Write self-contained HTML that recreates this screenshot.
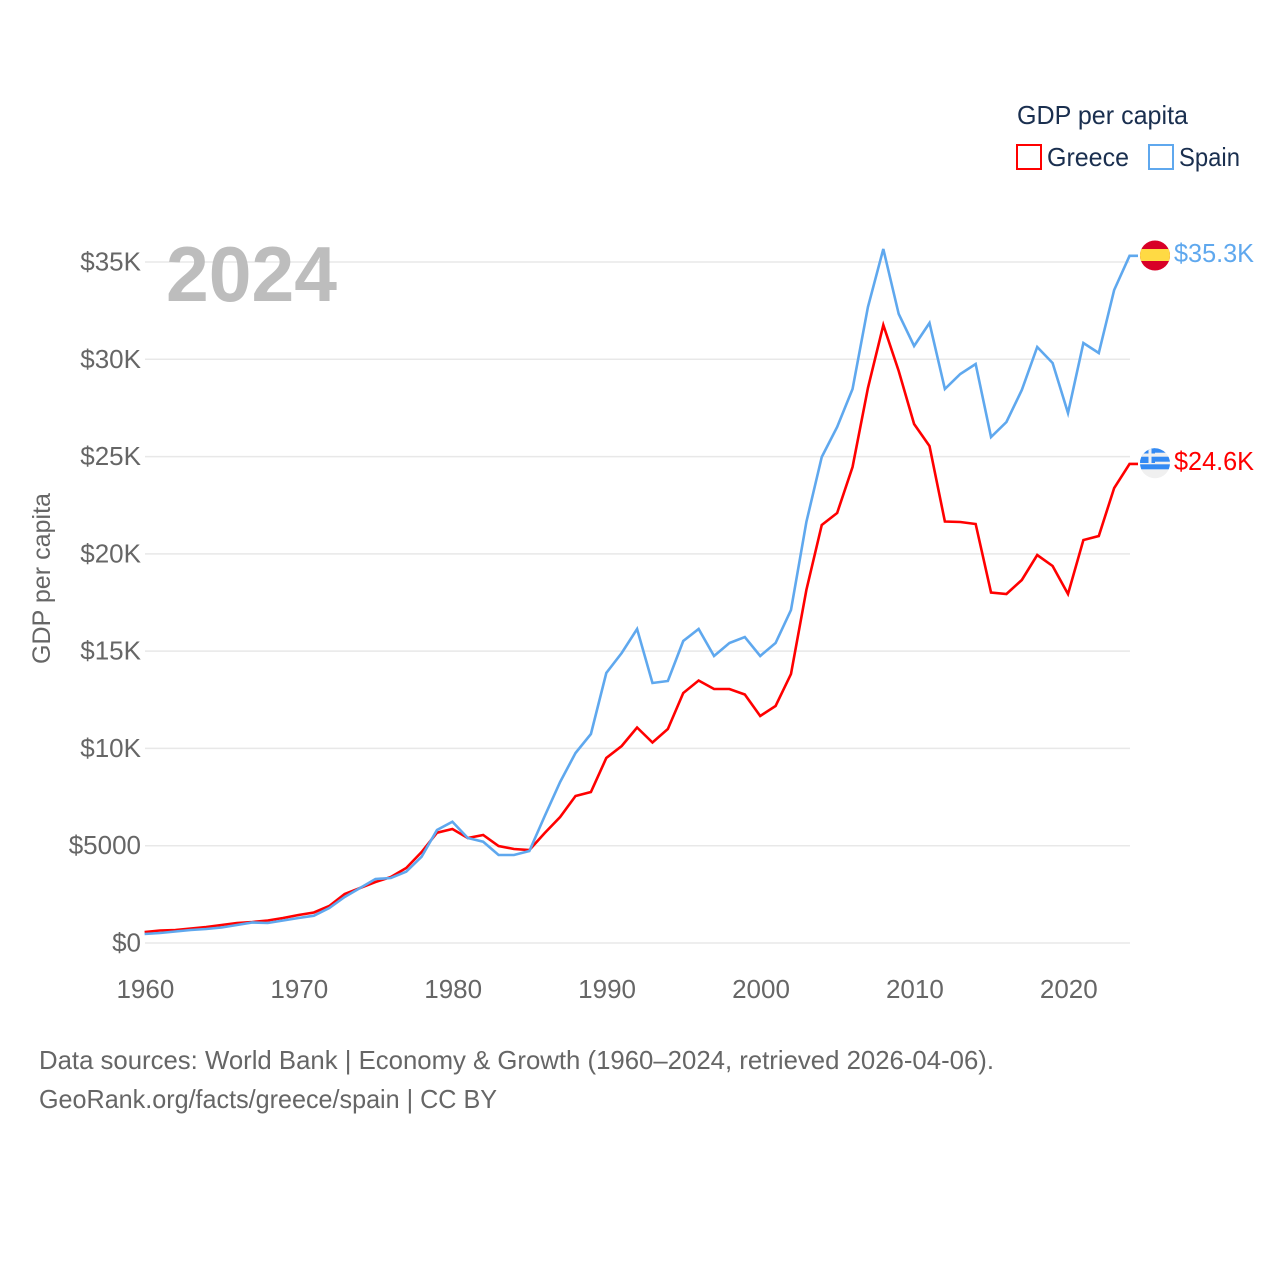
<!DOCTYPE html>
<html lang="en">
<head>
<meta charset="utf-8">
<title>GDP per capita: Greece and Spain</title>
<style>
html,body{margin:0;padding:0;background:#fff;width:1280px;height:1280px;overflow:hidden}
svg{display:block;font-family:"Liberation Sans",sans-serif}
</style>
</head>
<body>
<svg id="chart" width="1280" height="1280" viewBox="0 0 1280 1280" xmlns="http://www.w3.org/2000/svg">
  <defs>
    <clipPath id="flag-clip-es"><circle cx="1155" cy="255.5" r="15"/></clipPath>
    <clipPath id="flag-clip-gr"><circle cx="1155" cy="463.3" r="15"/></clipPath>
  </defs>
  <rect width="1280" height="1280" fill="#ffffff"/>

  <g id="grid"></g>
  <g id="y-ticks"></g>
  <g id="x-ticks"></g>

  <text x="166" y="301" font-size="78" font-weight="700" fill="#bdbdbd" textLength="171" lengthAdjust="spacingAndGlyphs">2024</text>

  <text transform="translate(50,664) rotate(-90)" font-size="25" fill="#666666" textLength="171" lengthAdjust="spacingAndGlyphs">GDP per capita</text>

  <g id="series"></g>

  <g>
    <text x="1017" y="124" font-size="26" fill="#1a2f4f" textLength="171" lengthAdjust="spacingAndGlyphs">GDP per capita</text>
    <rect x="1017" y="145" width="24" height="24" fill="none" stroke="#ff0000" stroke-width="2"/>
    <text x="1047" y="166" font-size="26" fill="#1a2f4f" textLength="82" lengthAdjust="spacingAndGlyphs">Greece</text>
    <rect x="1149" y="145" width="24" height="24" fill="none" stroke="#5fa8ee" stroke-width="2"/>
    <text x="1179" y="166" font-size="26" fill="#1a2f4f" textLength="61" lengthAdjust="spacingAndGlyphs">Spain</text>
  </g>

  <g clip-path="url(#flag-clip-es)">
    <rect x="1140" y="240" width="30" height="31" fill="#d80027"/>
    <rect x="1140" y="249" width="30" height="12" fill="#ffda44"/>
  </g>
  <g clip-path="url(#flag-clip-gr)">
    <rect x="1140" y="448" width="30" height="31" fill="#f0f0f0"/>
    <rect x="1140" y="448" width="30" height="4.7" fill="#338af3"/>
    <rect x="1140" y="456.7" width="30" height="5" fill="#338af3"/>
    <rect x="1140" y="464.3" width="30" height="5" fill="#338af3"/>
    <rect x="1140" y="448" width="15" height="15" fill="#338af3"/>
    <rect x="1140" y="453.5" width="15" height="3.2" fill="#f0f0f0"/>
    <rect x="1148.5" y="448" width="3" height="15" fill="#f0f0f0"/>
  </g>

  <text x="1174" y="262" font-size="26" fill="#5fa8ee" textLength="80" lengthAdjust="spacingAndGlyphs">$35.3K</text>
  <text x="1174" y="470" font-size="26" fill="#ff0000" textLength="80" lengthAdjust="spacingAndGlyphs">$24.6K</text>

  <text x="39" y="1069" font-size="26" fill="#666666" textLength="955" lengthAdjust="spacingAndGlyphs">Data sources: World Bank | Economy &amp; Growth (1960–2024, retrieved 2026-04-06).</text>
  <text x="39" y="1108" font-size="26" fill="#666666" textLength="458" lengthAdjust="spacingAndGlyphs">GeoRank.org/facts/greece/spain | CC BY</text>
</svg>
<script>
const startYear = 1960;
const yTickValues = [0, 5000, 10000, 15000, 20000, 25000, 30000, 35000];
const yTickLabels = ["$0", "$5000", "$10K", "$15K", "$20K", "$25K", "$30K", "$35K"];
const xTickYears = [1960, 1970, 1980, 1990, 2000, 2010, 2020];
const greeceValues = [565, 642, 668, 745, 822, 925, 1028, 1079, 1156, 1285, 1439, 1568, 1902, 2518, 2827, 3135, 3392, 3855, 4677, 5669, 5859, 5397, 5551, 4985, 4831, 4780, 5653, 6476, 7555, 7761, 9508, 10125, 11076, 10305, 10999, 12849, 13491, 13055, 13055, 12772, 11667, 12181, 13825, 18143, 21483, 22100, 24464, 28524, 31762, 29398, 26674, 25543, 21663, 21637, 21534, 18014, 17937, 18657, 19941, 19376, 17937, 20712, 20918, 23385, 24620];
const spainValues = [463, 514, 591, 668, 720, 797, 925, 1054, 1028, 1156, 1285, 1403, 1799, 2364, 2827, 3289, 3341, 3665, 4435, 5808, 6234, 5397, 5206, 4523, 4523, 4728, 6527, 8275, 9765, 10742, 13877, 14905, 16138, 13363, 13466, 15522, 16138, 14751, 15419, 15727, 14751, 15419, 17115, 21637, 24978, 26520, 28473, 32687, 35668, 32328, 30683, 31865, 28473, 29244, 29758, 26006, 26777, 28422, 30632, 29809, 27240, 30837, 30323, 33561, 35320];

const SVG_NS = "http://www.w3.org/2000/svg";
const xOf = function (year) { return 144.6 + (year - 1960) * 15.39; };
const yOf = function (value) { return 943 - value * 0.019457; };

const gridGroup = document.getElementById("grid");
const yTickGroup = document.getElementById("y-ticks");
const xTickGroup = document.getElementById("x-ticks");
const seriesGroup = document.getElementById("series");

yTickValues.forEach(function (value, i) {
  const line = document.createElementNS(SVG_NS, "line");
  
  
  line.setAttribute("x1", 145);
  line.setAttribute("x2", 1130);
  line.setAttribute("y1", yOf(value));
  line.setAttribute("y2", yOf(value));
  line.setAttribute("stroke", "#e8e8e8");
  line.setAttribute("stroke-width", "1.5");
  gridGroup.appendChild(line);

  const label = document.createElementNS(SVG_NS, "text");
  
  
  label.setAttribute("x", 141);
  label.setAttribute("y", yOf(value) + 8.5);
  label.setAttribute("text-anchor", "end");
  label.setAttribute("font-size", "26");
  label.setAttribute("fill", "#666666");
  label.textContent = yTickLabels[i];
  yTickGroup.appendChild(label);
});

xTickYears.forEach(function (year) {
  const label = document.createElementNS(SVG_NS, "text");
  
  
  label.setAttribute("x", xOf(year) + 0.8);
  label.setAttribute("y", 998);
  label.setAttribute("text-anchor", "middle");
  label.setAttribute("font-size", "26");
  label.setAttribute("fill", "#666666");
  label.textContent = String(year);
  xTickGroup.appendChild(label);
});

function pointsFor(values) {
  const pts = values.map(function (value, i) {
    return xOf(startYear + i).toFixed(2) + "," + yOf(value).toFixed(2);
  });
  pts.push("1138," + yOf(values[values.length - 1]).toFixed(2));
  return pts.join(" ");
}

const greeceLine = document.createElementNS(SVG_NS, "polyline");


greeceLine.setAttribute("points", pointsFor(greeceValues));
greeceLine.setAttribute("fill", "none");
greeceLine.setAttribute("stroke", "#ff0000");
greeceLine.setAttribute("stroke-width", "2.6");
seriesGroup.appendChild(greeceLine);

const spainLine = document.createElementNS(SVG_NS, "polyline");


spainLine.setAttribute("points", pointsFor(spainValues));
spainLine.setAttribute("fill", "none");
spainLine.setAttribute("stroke", "#5fa8ee");
spainLine.setAttribute("stroke-width", "2.6");
seriesGroup.appendChild(spainLine);
</script>
</body>
</html>
